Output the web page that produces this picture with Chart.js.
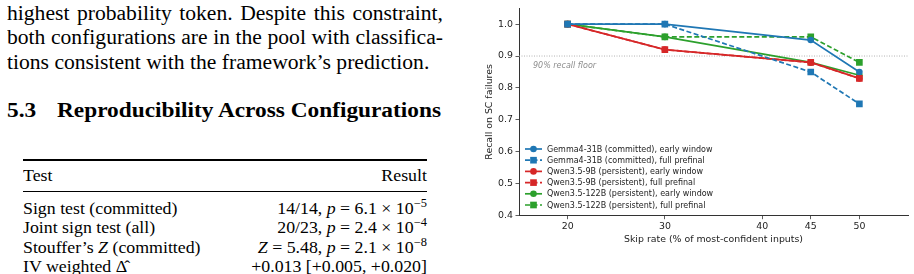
<!DOCTYPE html>
<html><head><meta charset="utf-8">
<script src="https://cdn.jsdelivr.net/npm/chart.js@4.4.1/dist/chart.umd.min.js"></script>
<style>
html,body{margin:0;padding:0;width:914px;height:274px;overflow:hidden;background:#fff;}
.t{position:absolute;font-family:"Liberation Serif","Times New Roman",serif;color:#000;white-space:nowrap;transform-origin:0 0;}
.para{font-size:20px;line-height:24px;left:7px;width:403.7px;transform:scaleX(1.08);}
.j{text-align:justify;text-align-last:justify;}
.h{font-size:21.6px;line-height:24px;font-weight:bold;transform:scaleX(1.08);}
.rule{position:absolute;left:23px;width:404px;background:#000;}
.row{font-size:16.5px;line-height:20px;left:23px;width:374px;transform:scaleX(1.08);}
.row .r{position:absolute;right:0;top:0;}
sup{font-size:11.5px;vertical-align:0;position:relative;top:-7px;}
#wrap{position:absolute;left:470px;top:0;width:444px;height:274px;}
</style></head>
<body>
<div class="t para j" style="top:1px">highest probability token. Despite this constraint,</div>
<div class="t para j" style="top:25.3px">both configurations are in the pool with classifica-</div>
<div class="t para" style="top:49.6px">tions consistent with the framework’s prediction.</div>
<div class="t h" style="top:98px;left:7px">5.3</div>
<div class="t h" style="top:98px;left:57px">Reproducibility Across Configurations</div>
<div class="rule" style="top:159.3px;height:1.4px"></div>
<div class="t row" style="top:166px">Test<span class="r">Result</span></div>
<div class="rule" style="top:191px;height:0.9px"></div>
<div class="t row" style="top:199px">Sign test (committed)<span class="r">14/14, <i>p</i> = 6.1 × 10<sup>−5</sup></span></div>
<div class="t row" style="top:218.3px">Joint sign test (all)<span class="r">20/23, <i>p</i> = 2.4 × 10<sup>−4</sup></span></div>
<div class="t row" style="top:237.8px">Stouffer’s <i>Z</i> (committed)<span class="r"><i>Z</i> = 5.48, <i>p</i> = 2.1 × 10<sup>−8</sup></span></div>
<div class="t row" style="top:257px">IV weighted Δ̂<span class="r">+0.013 [+0.005, +0.020]</span></div>
<div id="wrap"><canvas id="c" width="444" height="274"></canvas></div>
<script>
const skipRates = [20, 30, 45, 50];
const xTicks = [20, 30, 40, 45, 50];
const yTicks = [0.4, 0.5, 0.6, 0.7, 0.8, 0.9, 1.0];
const gemmaEarly = [1.0, 1.0, 0.95, 0.85];
const gemmaFull = [1.0, 1.0, 0.85, 0.75];
const qwen9Early = [1.0, 0.92, 0.88, 0.83];
const qwen9Full = [1.0, 0.92, 0.88, 0.83];
const qwen122Early = [1.0, 0.96, 0.88, 0.84];
const qwen122Full = [1.0, 0.96, 0.96, 0.88];
const seriesLabels = [
  "Gemma4-31B (committed), early window",
  "Gemma4-31B (committed), full prefinal",
  "Qwen3.5-9B (persistent), early window",
  "Qwen3.5-9B (persistent), full prefinal",
  "Qwen3.5-122B (persistent), early window",
  "Qwen3.5-122B (persistent), full prefinal"
];
const floorValue = 0.9;
const floorLabel = "90% recall floor";

const BLUE = "#1f77b4", RED = "#d62728", GREEN = "#2ca02c";
function ds(label, vals, color, full) {
  return {
    label, data: skipRates.map((x, i) => ({x, y: vals[i]})),
    borderColor: color, backgroundColor: color,
    borderWidth: 1.7, borderDash: full ? [5, 2.5] : [],
    pointStyle: full ? 'rect' : 'circle',
    pointRadius: full ? 4.7 : 3.3, pointHoverRadius: full ? 4.7 : 3.3,
    pointBorderWidth: 0, tension: 0, fill: false
  };
}
const datasets = [
  ds(seriesLabels[0], gemmaEarly, BLUE, false),
  ds(seriesLabels[1], gemmaFull, BLUE, true),
  ds(seriesLabels[2], qwen9Early, RED, false),
  ds(seriesLabels[3], qwen9Full, RED, true),
  ds(seriesLabels[4], qwen122Early, GREEN, false),
  ds(seriesLabels[5], qwen122Full, GREEN, true)
];

const FONT = "'DejaVu Sans', sans-serif";

const floorPlugin = {
  id: 'floor',
  beforeDatasetsDraw(chart) {
    const {ctx, chartArea, scales} = chart;
    const y = scales.y.getPixelForValue(floorValue);
    ctx.save();
    ctx.strokeStyle = '#aaaaaa';
    ctx.lineWidth = 0.9;
    ctx.setLineDash([1, 1.5]);
    ctx.beginPath();
    ctx.moveTo(chartArea.left, y);
    ctx.lineTo(chartArea.right, y);
    ctx.stroke();
    ctx.setLineDash([]);
    ctx.fillStyle = '#8c8c8c';
    ctx.font = "italic 8px " + FONT;
    ctx.textBaseline = 'middle';
    ctx.fillText(floorLabel, chartArea.left + 14, y + 9.5);
    ctx.restore();
  }
};

const legendPlugin = {
  id: 'mplLegend',
  afterDraw(chart) {
    const {ctx, chartArea} = chart;
    ctx.save();
    const x0 = chartArea.left + 6, x1 = chartArea.left + 23, tx = chartArea.left + 28;
    const yStart = 149, dy = 11.2;
    chart.data.datasets.forEach((d, i) => {
      const y = yStart + i * dy;
      ctx.strokeStyle = d.borderColor;
      ctx.lineWidth = d.borderWidth;
      ctx.setLineDash(d.borderDash);
      ctx.beginPath(); ctx.moveTo(x0, y); ctx.lineTo(x1, y); ctx.stroke();
      ctx.setLineDash([]);
      ctx.fillStyle = d.backgroundColor;
      const cx = (x0 + x1) / 2;
      if (d.pointStyle === 'rect') {
        const s = d.pointRadius * Math.SQRT1_2;
        ctx.fillRect(cx - s, y - s, 2 * s, 2 * s);
      } else {
        ctx.beginPath(); ctx.arc(cx, y, d.pointRadius, 0, Math.PI * 2); ctx.fill();
      }
      ctx.fillStyle = '#222';
      ctx.font = "8px " + FONT;
      ctx.textBaseline = 'middle';
      ctx.fillText(d.label, tx, y + 0.5);
    });
    ctx.restore();
  }
};

new Chart(document.getElementById('c'), {
  type: 'line',
  data: { datasets },
  options: {
    responsive: false, animation: false, devicePixelRatio: 1,
    layout: { padding: { top: 6, right: 6, bottom: 0, left: 0 } },
    plugins: { legend: { display: false }, tooltip: { enabled: false } },
    scales: {
      x: {
        type: 'linear', min: 15, max: 55,
        afterBuildTicks: a => { a.ticks = xTicks.map(v => ({value: v})); },
        afterFit: s => { s.height = 58.3; },
        grid: { drawOnChartArea: false, drawTicks: true, tickLength: 3.5, color: '#333', tickWidth: 0.8 },
        border: { display: true, color: '#333', width: 1 },
        ticks: { color: '#222', font: { family: FONT, size: 9.4 }, padding: 1.5, maxRotation: 0, autoSkip: false,
                 callback: v => String(v) },
        title: { display: true, text: 'Skip rate (% of most-confident inputs)', color: '#222',
                 font: { family: FONT, size: 9.4 }, padding: { top: 1, bottom: 29 } }
      },
      y: {
        type: 'linear', min: 0.4, max: 1.05,
        afterBuildTicks: a => { a.ticks = yTicks.map(v => ({value: v})); },
        afterFit: s => { s.width = 49; },
        grid: { drawOnChartArea: false, drawTicks: true, tickLength: 3.5, color: '#333', tickWidth: 0.8 },
        border: { display: true, color: '#333', width: 1 },
        ticks: { color: '#222', font: { family: FONT, size: 9.4 }, padding: 2.5, callback: v => v.toFixed(1) },
        title: { display: true, text: 'Recall on SC failures', color: '#222',
                 font: { family: FONT, size: 9.4 }, padding: { top: 14, bottom: 0 } }
      }
    }
  },
  plugins: [floorPlugin, legendPlugin]
});
</script>
</body></html>
